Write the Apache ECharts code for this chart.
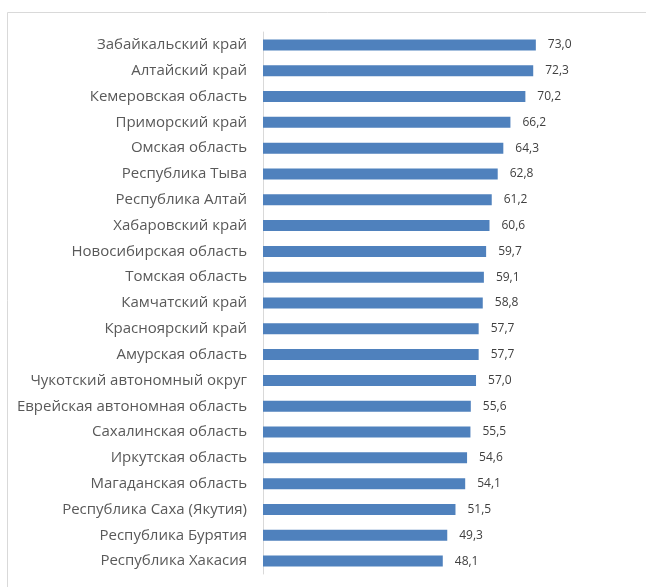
<!DOCTYPE html>
<html>
<head>
<meta charset="utf-8">
<script src="https://cdn.jsdelivr.net/npm/echarts@6/dist/echarts.min.js"></script>
<style>
  html, body { margin: 0; padding: 0; background: #fff; }
  #chart { width: 646px; height: 587px; }
</style>
</head>
<body>
<div id="chart"></div>
<script>
// регионы сверху вниз
var regions = [
  'Забайкальский край', 'Алтайский край', 'Кемеровская область', 'Приморский край',
  'Омская область', 'Республика Тыва', 'Республика Алтай', 'Хабаровский край',
  'Новосибирская область', 'Томская область', 'Камчатский край', 'Красноярский край',
  'Амурская область', 'Чукотский автономный округ', 'Еврейская автономная область',
  'Сахалинская область', 'Иркутская область', 'Магаданская область',
  'Республика Саха (Якутия)', 'Республика Бурятия', 'Республика Хакасия'
]
var values = [73.0, 72.3, 70.2, 66.2, 64.3, 62.8, 61.2, 60.6, 59.7, 59.1, 58.8,
  57.7, 57.7, 57.0, 55.6, 55.5, 54.6, 54.1, 51.5, 49.3, 48.1]

var myChart = echarts.init(document.getElementById('chart'))
myChart.setOption({
  backgroundColor: '#fff',
  animation: false,
  graphic: [{
    type: 'rect',
    shape: { x: 7.5, y: 12.5, width: 700, height: 700 },
    style: { fill: 'none', stroke: '#d9d9d9', lineWidth: 1 },
    silent: true
  }],
  grid: { left: 263, right: 84, top: 32, bottom: 13 },
  xAxis: {
    type: 'value',
    min: 0,
    max: 80,
    show: false
  },
  yAxis: {
    type: 'category',
    inverse: true,
    data: regions,
    axisLine: { lineStyle: { color: '#d9d9d9' } },
    axisTick: { show: false },
    axisLabel: {
      color: '#595959',
      fontSize: 15,
      fontFamily: 'Open Sans, sans-serif',
      margin: 16
    }
  },
  series: [{
    type: 'bar',
    data: values,
    barWidth: 11,
    itemStyle: { color: '#4f81bd' },
    label: {
      show: true,
      position: 'right',
      distance: 12,
      color: '#404040',
      fontSize: 12,
      fontFamily: 'Open Sans, sans-serif',
      formatter: function (p) { return p.value.toFixed(1).replace('.', ',') }
    }
  }]
})
</script>
</body>
</html>
